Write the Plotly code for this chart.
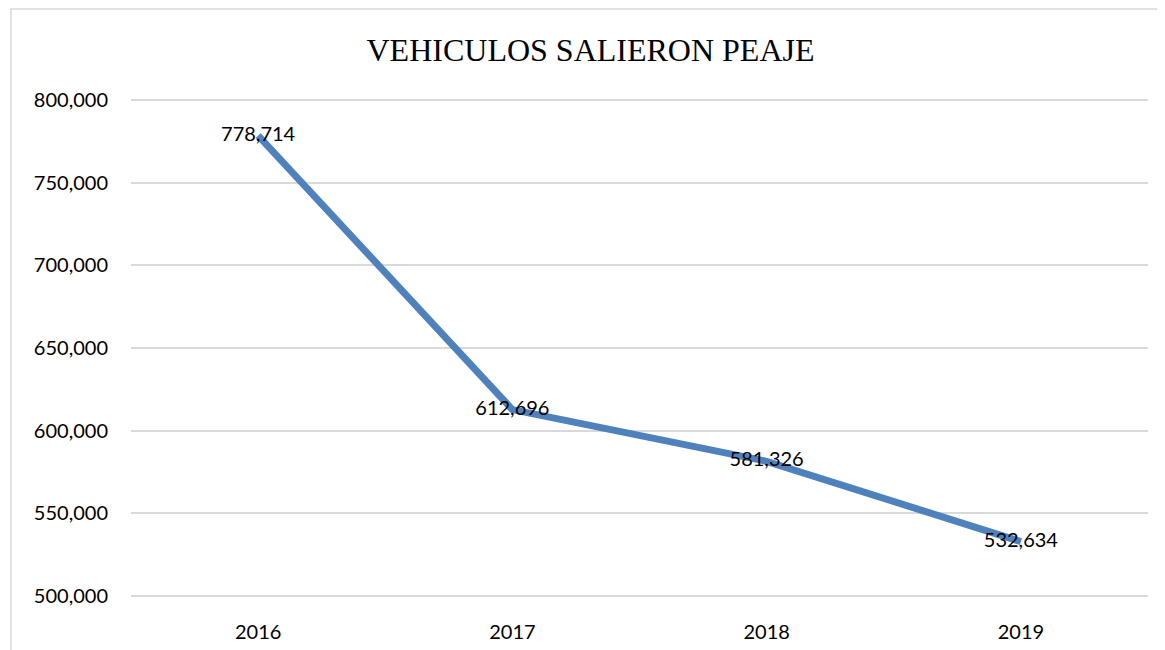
import plotly.graph_objects as go

# ── Data ─────────────────────────────────────────────────────────────────────
years    = ["2016", "2017", "2018", "2019"]
vehicles = [778714, 612696, 581326, 532634]
y_ticks  = [500000, 550000, 600000, 650000, 700000, 750000, 800000]

BLUE = "#4F81BD"
GRID = "#D9D9D9"
TEXT = "#000000"
FONT = "Lato, Open Sans, sans-serif"

# page has an 8px body margin, so plot box is placed 8px up/left
L, R, T, B = 123, 25, 90, 60
W, H = 1165, 650
PW, PH = W - L - R, H - T - B

fig = go.Figure(go.Scatter(
    x=years, y=vehicles,
    mode="lines+text",
    line=dict(color=BLUE, width=7),
    text=[f"{v:,}" for v in vehicles],
    textposition="middle center",
    textfont=dict(family=FONT, size=20, color=TEXT),
    hoverinfo="x+y",
))

# chart border (only top/left edges visible in the crop)
fig.add_shape(type="rect", xref="paper", yref="paper",
              x0=(3 - L) / PW, x1=1.2, y0=-0.3, y1=(H - B - 1) / PH,
              line=dict(color=GRID, width=1.5), layer="below")

fig.update_layout(
    width=W, height=H,
    paper_bgcolor="white", plot_bgcolor="white",
    margin=dict(l=L, r=R, t=T, b=B),
    showlegend=False,
    title=dict(text="VEHICULOS SALIERON PEAJE", x=0.5, xanchor="center",
               y=1 - 42 / H, yanchor="middle",
               font=dict(family="Liberation Serif, Times New Roman, serif",
                         size=32, color=TEXT)),
    xaxis=dict(type="category", range=[-0.5, 3.5], showgrid=False,
               showline=False, zeroline=False, ticks="", ticklabelstandoff=20,
               tickfont=dict(family=FONT, size=20, color=TEXT)),
    yaxis=dict(range=[498500, 801500], tickvals=y_ticks,
               ticktext=[f"{t:,}" for t in y_ticks],
               gridcolor=GRID, gridwidth=1.5, showline=False, zeroline=False,
               ticks="", ticklabelstandoff=22,
               tickfont=dict(family=FONT, size=20, color=TEXT)),
)

fig.write_html("out.html")
